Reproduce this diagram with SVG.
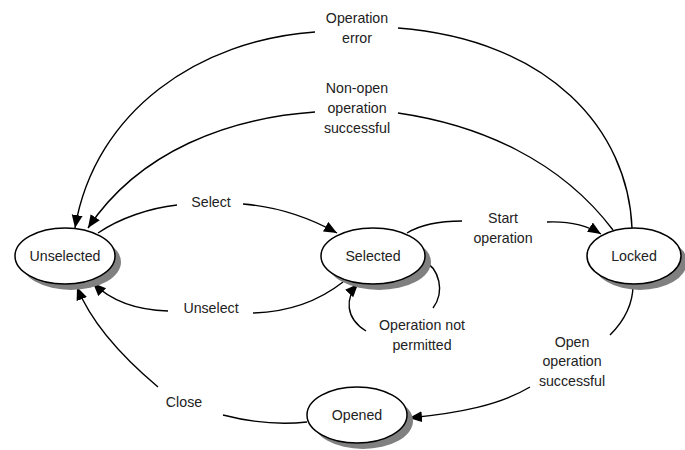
<svg xmlns="http://www.w3.org/2000/svg" width="685" height="450" viewBox="0 0 685 450">
  <style>
    .shadow { fill: #808080; stroke: none; }
    .state { fill: #ffffff; stroke: #000000; stroke-width: 1.5; }
    .label { font-family: "Liberation Sans", Arial, Helvetica, sans-serif; font-size: 14.2px; fill: #222222; text-anchor: middle; }
    .edge { fill: none; stroke: #000000; stroke-width: 1.4; }
  </style>
  <defs>
    <marker id="arrow" markerUnits="userSpaceOnUse" markerWidth="14" markerHeight="12" refX="13" refY="5.5" orient="auto">
      <path d="M0,0 L13,5.5 L0,11 Z" fill="#000000"/>
    </marker>
  </defs>
  <rect width="685" height="450" fill="#ffffff"/>

  <!-- transitions -->
  <g id="connectors">
    <!-- Locked -> Unselected : Operation error -->
    <path class="edge" d="M632,228 C628,130 550,40 398,28"/>
    <path class="edge" d="M315,32 C200,40 95,110 75,228" marker-end="url(#arrow)"/>
    <!-- Locked -> Unselected : Non-open operation successful -->
    <path class="edge" d="M613,230 C560,160 480,125 398,113"/>
    <path class="edge" d="M315,112 C230,118 140,150 88,228" marker-end="url(#arrow)"/>
    <!-- Unselected -> Selected : Select -->
    <path class="edge" d="M98,233 C120,218 150,208 177,205"/>
    <path class="edge" d="M243,204 C280,207 310,218 337,233" marker-end="url(#arrow)"/>
    <!-- Selected -> Unselected : Unselect -->
    <path class="edge" d="M343,282 C320,300 290,312 253,313"/>
    <path class="edge" d="M168,311 C135,310 110,300 93,283" marker-end="url(#arrow)"/>
    <!-- Selected -> Locked : Start operation -->
    <path class="edge" d="M407,233 C420,225 440,221 462,221"/>
    <path class="edge" d="M547,222 C570,221 588,226 601,234" marker-end="url(#arrow)"/>
    <!-- Selected -> Selected : Operation not permitted -->
    <path class="edge" d="M422,260 C440,268 445,292 433,308"/>
    <path class="edge" d="M366,331 C345,318 345,298 358,284" marker-end="url(#arrow)"/>
    <!-- Locked -> Opened : Open operation successful -->
    <path class="edge" d="M633,285 C633,305 623,322 610,335"/>
    <path class="edge" d="M530,387 C500,405 460,413 409,418" marker-end="url(#arrow)"/>
    <!-- Opened -> Unselected : Close -->
    <path class="edge" d="M307,422 C280,425 250,422 223,415"/>
    <path class="edge" d="M158,387 C120,355 90,320 77,287" marker-end="url(#arrow)"/>
  </g>

  <!-- transition labels -->
  <g id="edge-labels">
    <text class="label" x="357" y="23">Operation</text>
    <text class="label" x="357" y="43">error</text>
    <text class="label" x="357" y="93">Non-open</text>
    <text class="label" x="357" y="113">operation</text>
    <text class="label" x="357" y="133">successful</text>
    <text class="label" x="211" y="207">Select</text>
    <text class="label" x="211" y="313">Unselect</text>
    <text class="label" x="503" y="223">Start</text>
    <text class="label" x="503" y="243">operation</text>
    <text class="label" x="422" y="330">Operation not</text>
    <text class="label" x="422" y="350">permitted</text>
    <text class="label" x="572" y="347">Open</text>
    <text class="label" x="572" y="366">operation</text>
    <text class="label" x="572" y="386">successful</text>
    <text class="label" x="184" y="407">Close</text>
  </g>

  <!-- states -->
  <g id="unselected">
    <ellipse class="shadow" cx="71" cy="262" rx="50" ry="28"/>
    <ellipse class="state" cx="65" cy="256" rx="50" ry="28"/>
    <text class="label" x="65" y="261">Unselected</text>
  </g>
  <g id="selected">
    <ellipse class="shadow" cx="379" cy="262" rx="52" ry="28"/>
    <ellipse class="state" cx="373" cy="256" rx="52" ry="28"/>
    <text class="label" x="373" y="261">Selected</text>
  </g>
  <g id="locked">
    <ellipse class="shadow" cx="640" cy="262" rx="47" ry="28"/>
    <ellipse class="state" cx="634" cy="256" rx="47" ry="28"/>
    <text class="label" x="634" y="261">Locked</text>
  </g>
  <g id="opened">
    <ellipse class="shadow" cx="363" cy="421" rx="50" ry="28"/>
    <ellipse class="state" cx="357" cy="415" rx="50" ry="28"/>
    <text class="label" x="357" y="420">Opened</text>
  </g>
</svg>
